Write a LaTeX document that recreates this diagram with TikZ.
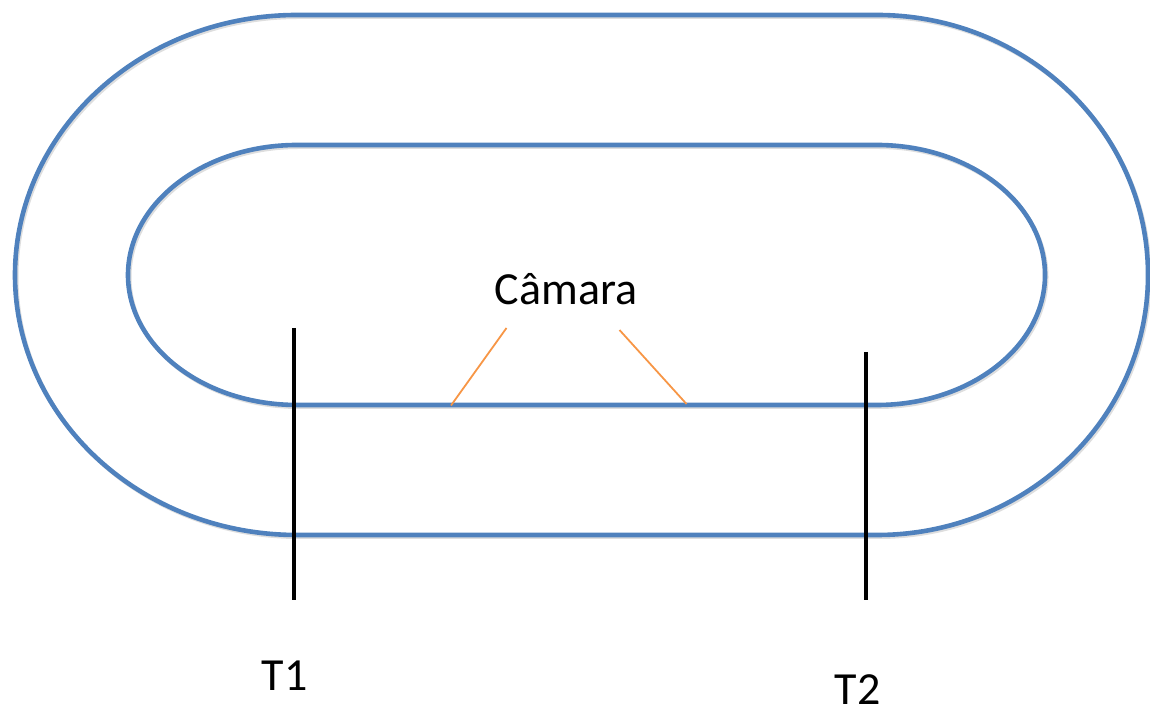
\documentclass[tikz,border=0pt]{standalone}
\usepackage{fontspec}
\setmainfont{Carlito}
\definecolor{trackblue}{HTML}{4F81BD}
\definecolor{camorange}{HTML}{F79646}
\definecolor{shadowgray}{HTML}{C8C8C8}
\begin{document}
\begin{tikzpicture}[x=1pt,y=1pt,
  track/.style={draw=trackblue,line width=4.6pt},
  trackshadow/.style={draw=shadowgray,line width=4pt,opacity=0.6},
  timer/.style={draw=black,line width=4.8pt},
  camline/.style={draw=camorange,line width=1.8pt},
  lbl/.style={inner sep=0pt,anchor=base,font=\fontsize{46}{55}\selectfont}]
\useasboundingbox (0,0) rectangle (1150,711);
% shadows
\path[trackshadow,transform canvas={xshift=1.5pt,yshift=-2pt}] (297,696) -- (877,696)
  arc[start angle=90,end angle=-90,x radius=271,y radius=260] -- (297,176)
  arc[start angle=-90,end angle=-270,x radius=282,y radius=260] -- cycle;
\path[trackshadow,transform canvas={xshift=1.5pt,yshift=-2pt}] (297,566) -- (877,566)
  arc[start angle=90,end angle=-90,x radius=168,y radius=130] -- (297,306)
  arc[start angle=-90,end angle=-270,x radius=169,y radius=130] -- cycle;
% outer track
\path[track] (297,696) -- (877,696)
  arc[start angle=90,end angle=-90,x radius=271,y radius=260] -- (297,176)
  arc[start angle=-90,end angle=-270,x radius=282,y radius=260] -- cycle;
% inner track
\path[track] (297,566) -- (877,566)
  arc[start angle=90,end angle=-90,x radius=168,y radius=130] -- (297,306)
  arc[start angle=-90,end angle=-270,x radius=169,y radius=130] -- cycle;
% timing lines
\coordinate (t1top) at (294,383);
\coordinate (t1bot) at (294,111);
\coordinate (t2top) at (866,359);
\coordinate (t2bot) at (866,111);
\draw[timer] (t1top) -- (t1bot);
\draw[timer] (t2top) -- (t2bot);
% camera lines
\coordinate (c1a) at (506.5,383);
\coordinate (c1b) at (451,305.5);
\coordinate (c2a) at (619.5,381);
\coordinate (c2b) at (686.5,307);
\draw[camline] (c1a) -- (c1b);
\draw[camline] (c2a) -- (c2b);
% labels
\node[lbl] (cam) at (566,406) {Câmara};
\node[lbl] (T1) at (284.5,20) {T1};
\node[lbl] (T2) at (857.5,6) {T2};
\end{tikzpicture}
\end{document}
